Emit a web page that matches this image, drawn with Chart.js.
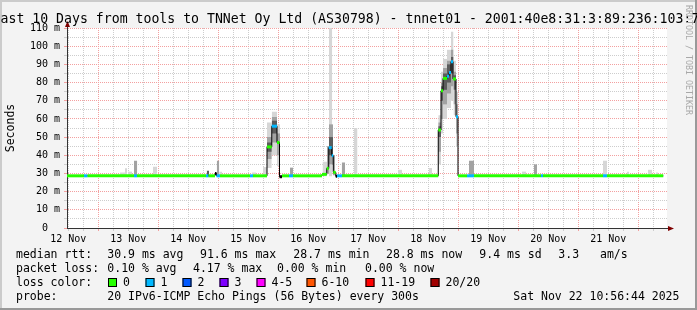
<!DOCTYPE html>
<html>
<head>
<meta charset="utf-8">
<script src="https://cdn.jsdelivr.net/npm/chart.js@4/dist/chart.umd.min.js"></script>
<style>
  html, body { margin: 0; padding: 0; background: #f3f3f3; }
  canvas { display: block; }
</style>
</head>
<body>
<canvas id="rttChart" width="697" height="310"></canvas>
<script>
// time axis: hours since 12 Nov 00:00
const dayLabels = ['12 Nov', '13 Nov', '14 Nov', '15 Nov', '16 Nov', '17 Nov', '18 Nov', '19 Nov', '20 Nov', '21 Nov'];
const xGridHours = [];
for (let h = 12; h <= 246; h += 6) xGridHours.push(h);
const yGridMs = [];
for (let v = 0; v <= 110; v += 5) yGridMs.push(v);

// median rtt: start hour of each step, value (ms), lost pings (-1 = no colour)
const medStart = [11.5, 18.3, 19.7, 38.3, 39.5, 67.1, 68.1, 70.7, 71.3, 72.7, 84.7, 85.9,
  91.5, 93.4, 95.5, 96.5, 97.5, 100.3, 101.9,
  113.5, 115.4, 116.2, 117.4, 118.0, 119.0, 119.5, 121.5,
  160.0, 161.1, 161.9, 163.5, 164.3, 165.1, 165.9, 167.1, 167.9,
  171.5, 174.3, 201.1, 201.9, 225.9, 227.5];
const medValue = [28.7, 28.7, 28.7, 28.7, 28.7, 28.7, 28.7, 30.0, 28.7, 28.7, 28.7, 28.7,
  44.6, 56.0, 47.0, 28.2, 28.7, 28.7, 28.7,
  29.5, 32.8, 44.2, 39.8, 30.6, 28.4, 28.7, 28.7,
  53.9, 75.5, 82.3, 83.5, 85.5, 91.5, 82.0, 61.2, 28.7,
  28.7, 28.7, 28.7, 28.7, 28.7, 28.7];
const medLoss = [0, 1, 0, 1, 0, 1, 0, -1, 1, 0, 1, 0,
  0, 1, 0, -1, 0, 1, 0,
  0, 0, 1, 1, 0, -1, 1, 0,
  0, 0, 0, 1, 1, 1, 0, 1, 0,
  1, 0, 1, 0, 1, 0];
const medEnd = 250.0;

// smoke: [from hour, to hour, low ms, high ms]
const smokeLight = [
  [32.7, 34.7, 28.5, 30.5], [34.7, 35.5, 28.5, 32.8], [35.9, 37.5, 28.5, 31.0],
  [45.9, 47.5, 28.5, 33.7], [72.4, 73.6, 28.5, 31.0], [85.5, 87.1, 28.5, 30.5],
  [89.9, 91.5, 28.5, 33.5], [91.5, 93.4, 33.0, 58.0], [93.4, 95.5, 40.0, 64.0], [95.5, 96.7, 34.0, 57.0],
  [113.7, 115.5, 28.5, 36.5], [116.3, 117.6, 28.5, 110.0], [126.3, 127.7, 28.5, 55.0],
  [143.9, 145.5, 28.5, 32.0], [156.3, 157.5, 28.5, 33.0],
  [160.0, 161.1, 35.0, 62.0], [161.1, 161.9, 52.0, 86.0], [161.9, 163.5, 60.0, 93.0],
  [163.5, 165.1, 66.0, 98.0], [165.1, 166.1, 70.0, 108.0], [166.1, 167.1, 62.0, 92.0],
  [167.1, 167.9, 45.0, 75.0],
  [193.5, 195.1, 28.5, 31.0], [225.9, 227.5, 28.5, 37.0], [235.5, 236.3, 28.5, 31.0],
  [243.9, 245.5, 28.5, 32.0], [247.1, 247.9, 28.5, 30.5]
];
const smokeMid = [
  [38.3, 39.6, 28.5, 37.0], [71.4, 72.4, 28.5, 37.0],
  [91.5, 93.4, 38.0, 50.0], [93.4, 95.5, 47.0, 61.0], [95.5, 96.7, 40.0, 52.0],
  [100.7, 101.9, 28.5, 33.2],
  [115.5, 116.3, 30.0, 45.0], [116.3, 117.9, 35.0, 57.0], [117.9, 118.7, 29.0, 40.0],
  [121.4, 122.7, 28.5, 36.0],
  [160.0, 161.1, 42.0, 58.0], [161.1, 161.9, 60.0, 80.0], [161.9, 163.5, 68.0, 88.0],
  [163.5, 165.1, 74.0, 92.0], [165.1, 166.1, 78.0, 98.0], [166.1, 167.1, 68.0, 86.0],
  [167.1, 167.9, 52.0, 68.0],
  [172.3, 174.3, 28.5, 37.0], [198.3, 199.5, 28.5, 35.0]
];
const smokeDark = [
  [67.4, 68.3, 28.5, 31.5],
  [91.5, 93.4, 42.0, 47.0], [93.4, 95.5, 52.0, 59.0],
  [116.3, 117.9, 40.0, 50.0],
  [160.0, 161.1, 50.0, 56.0], [161.1, 161.9, 70.0, 78.0], [161.9, 163.5, 76.0, 85.0],
  [163.5, 165.1, 80.0, 90.0], [165.1, 166.1, 85.0, 94.0], [166.1, 167.1, 76.0, 84.0]
];

const lossLabels = ['0', '1', '2', '3', '4-5', '6-10', '11-19', '20/20'];
const lossColors = ['#26ff00', '#00b8ff', '#0059ff', '#7e00ff', '#ff00ff', '#ff5500', '#ff0000', '#a10000'];

const rttStats = ['30.9 ms avg', '91.6 ms max', '28.7 ms min', '28.8 ms now', '9.4 ms sd', '3.3', 'am/s'];
const lossStats = ['0.10 % avg', '4.17 % max', '0.00 % min', '0.00 % now'];

const MONO = "'DejaVu Sans Mono', 'Liberation Mono', monospace";

function lossColor(n) {
  if (n < 0) return '#000000';
  if (n <= 3) return lossColors[n];
  if (n <= 5) return lossColors[4];
  if (n <= 10) return lossColors[5];
  if (n <= 19) return lossColors[6];
  return lossColors[7];
}

function bandPoints(list, which) {
  const pts = [];
  list.slice().sort((a, b) => a[0] - b[0]).forEach(b => {
    const v = which === 'low' ? b[2] : b[3];
    pts.push({ x: b[0], y: v }, { x: b[1], y: v }, { x: b[1], y: null });
  });
  return pts;
}

// step line (connectors) and coloured horizontal pieces
const medLine = medStart.map((t, i) => ({ x: t, y: medValue[i] }));
medLine.push({ x: medEnd, y: medValue[medValue.length - 1] });

const medPieces = [];
medStart.forEach((t, i) => {
  const next = i + 1 < medStart.length ? medStart[i + 1] : medEnd;
  medPieces.push({ x: t, y: medValue[i], loss: medLoss[i] });
  medPieces.push({ x: next, y: medValue[i], loss: medLoss[i] });
  medPieces.push({ x: next, y: null, loss: medLoss[i] });
});

const datasets = [];
[[smokeLight, '#d6d6d6'], [smokeMid, '#a2a2a2'], [smokeDark, '#5c5c5c']].forEach(([list, col]) => {
  datasets.push({ data: bandPoints(list, 'low'), borderColor: 'rgba(0,0,0,0)', borderWidth: 0, pointRadius: 0, fill: false });
  datasets.push({ data: bandPoints(list, 'high'), borderColor: 'rgba(0,0,0,0)', borderWidth: 0, pointRadius: 0, fill: '-1', backgroundColor: col });
});
datasets.push({ data: medLine, stepped: true, borderColor: '#000000', borderWidth: 1, pointRadius: 0, fill: false });
datasets.push({
  data: medPieces, borderColor: lossColors[0], borderWidth: 3, pointRadius: 0, fill: false, borderCapStyle: 'butt',
  segment: { borderColor: c => lossColor(medPieces[c.p0DataIndex].loss) }
});
datasets.forEach((d, i) => { d.order = datasets.length - i; });

const RED_GRID = '#f3a0a0';
const GREY_GRID = '#cdcdcd';
const AXIS = '#333333';

const framePlugin = {
  id: 'frame',
  beforeDraw(chart) {
    const c = chart.ctx, a = chart.chartArea;
    c.save();
    c.fillStyle = '#f3f3f3';
    c.fillRect(0, 0, chart.width, chart.height);
    c.fillStyle = '#cbcbcb';
    c.fillRect(0, 0, chart.width, 2);
    c.fillRect(0, 0, 2, chart.height);
    c.fillStyle = '#999999';
    c.fillRect(0, chart.height - 2, chart.width, 2);
    c.fillRect(chart.width - 2, 0, 2, chart.height);
    c.fillStyle = '#ffffff';
    c.fillRect(a.left, a.top, a.right - a.left, a.bottom - a.top);
    c.restore();
  },
  afterDraw(chart) {
    const c = chart.ctx, a = chart.chartArea;
    c.save();
    // axis arrows
    c.strokeStyle = AXIS;
    c.lineWidth = 1;
    c.beginPath();
    c.moveTo(a.left + 0.5, a.top); c.lineTo(a.left + 0.5, a.top - 4);
    c.moveTo(a.right, a.bottom + 0.5); c.lineTo(a.right + 3, a.bottom + 0.5);
    c.stroke();
    c.fillStyle = '#7f0000';
    c.beginPath();
    c.moveTo(a.left - 2, a.top - 1); c.lineTo(a.left + 3, a.top - 1); c.lineTo(a.left + 0.5, a.top - 7); c.closePath();
    c.fill();
    c.beginPath();
    c.moveTo(a.right + 1, a.bottom - 2); c.lineTo(a.right + 1, a.bottom + 3); c.lineTo(a.right + 7, a.bottom + 0.5); c.closePath();
    c.fill();

    // title
    c.fillStyle = '#000';
    c.font = '13.2px ' + MONO;
    c.textBaseline = 'alphabetic';
    c.textAlign = 'left';
    c.fillText('Last 10 Days from tools to TNNet Oy Ltd (AS30798) - tnnet01 - 2001:40e8:31:3:89:236:103:77', -7.4, 22.5);

    // watermark
    c.save();
    c.translate(688, 5);
    c.rotate(Math.PI / 2);
    c.font = '8.3px ' + MONO;
    c.fillStyle = '#a8a8a8';
    c.textBaseline = 'middle';
    c.fillText('RRDTOOL / TOBI OETIKER', 0, 0);
    c.restore();

    // legend
    c.font = '11.5px ' + MONO;
    c.fillStyle = '#000';
    c.fillText('median rtt:', 16, 258);
    const rttX = [107.3, 200, 293.3, 386, 479.3, 558.3, 600];
    rttStats.forEach((s, i) => c.fillText(s, rttX[i], 258));
    c.fillText('packet loss:', 16, 272);
    const lossX = [107.3, 193, 277, 365];
    lossStats.forEach((s, i) => c.fillText(s, lossX[i], 272));
    c.fillText('loss color:', 16, 286);
    const boxX = [108, 145.5, 182.5, 219.5, 256.5, 306.5, 365.5, 430.5];
    lossLabels.forEach((s, i) => {
      c.fillStyle = lossColors[i];
      c.fillRect(boxX[i], 278, 9, 9);
      c.strokeStyle = '#000';
      c.strokeRect(boxX[i] + 0.5, 278.5, 8, 8);
      c.fillStyle = '#000';
      c.fillText(s, boxX[i] + 15, 286);
    });
    c.fillText('probe:', 16, 300);
    c.fillText('20 IPv6-ICMP Echo Pings (56 Bytes) every 300s', 107.3, 300);
    c.fillText('Sat Nov 22 10:56:44 2025', 513.3, 300);
    c.restore();
  }
};

const ctxRtt = document.getElementById('rttChart').getContext('2d');
const rttChart = new Chart(ctxRtt, {
  type: 'line',
  data: { datasets: datasets },
  options: {
    responsive: false,
    animation: false,
    events: [],
    layout: { padding: { left: 0, right: 30, top: 28, bottom: 62 } },
    plugins: {
      legend: { display: false },
      tooltip: { enabled: false },
      title: { display: false }
    },
    scales: {
      x: {
        type: 'linear',
        min: 11.5,
        max: 251.5,
        afterBuildTicks: s => { s.ticks = xGridHours.map(v => ({ value: v })); },
        afterFit: s => { s.height = 20; },
        grid: {
          color: c => (c.tick && c.tick.value % 24 === 0) ? RED_GRID : GREY_GRID,
          tickLength: 3,
          lineWidth: 1
        },
        border: { color: AXIS, width: 1, dash: [1, 1] },
        ticks: {
          autoSkip: false, maxRotation: 0, minRotation: 0, padding: 2,
          color: '#000', font: { family: MONO, size: 10 },
          callback: v => ((v - 12) % 24 === 0 ? dayLabels[(v - 12) / 24] : '')
        }
      },
      y: {
        type: 'linear',
        min: 0,
        max: 110,
        afterBuildTicks: s => { s.ticks = yGridMs.map(v => ({ value: v })); },
        afterFit: s => { s.width = 67; },
        grid: {
          color: c => (c.tick && c.tick.value % 10 === 0) ? RED_GRID : GREY_GRID,
          tickLength: 3,
          lineWidth: 1
        },
        border: { color: AXIS, width: 1, dash: [1, 1] },
        title: {
          display: true, text: 'Seconds', color: '#000',
          font: { family: MONO, size: 11.5 }, padding: { top: 4, bottom: 0 }
        },
        ticks: {
          autoSkip: false, padding: 4,
          color: '#000', font: { family: MONO, size: 10 },
          callback: v => (v % 10 === 0 ? (v === 0 ? '0  ' : v + ' m') : '')
        }
      }
    }
  },
  plugins: [framePlugin]
});
</script>
</body>
</html>
